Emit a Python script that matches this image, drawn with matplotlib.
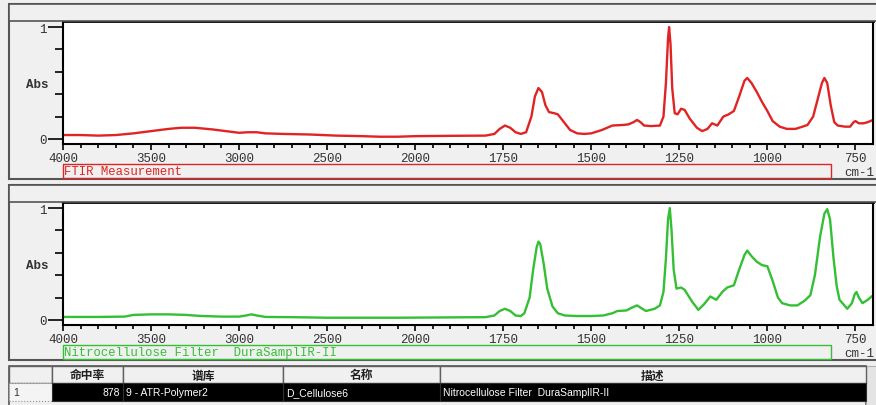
import numpy as np
import matplotlib
matplotlib.use('Agg')
from matplotlib import pyplot as plt
from matplotlib.patches import Rectangle
from matplotlib.ticker import FixedLocator

# --- measured spectrum (red) ---
wn_meas = [4000, 3900, 3800, 3700, 3600, 3500, 3400, 3330, 3250, 3150, 3050, 3000, 2950, 2900,
           2850, 2750, 2600, 2450, 2300, 2200, 2100, 2000, 1900, 1800, 1775, 1760, 1745, 1730,
           1715, 1700, 1685, 1670, 1660, 1650, 1640, 1630, 1620, 1605, 1595, 1580, 1560, 1540,
           1520, 1500, 1470, 1440, 1410, 1395, 1380, 1370, 1360, 1350, 1330, 1305, 1295, 1288,
           1282, 1279, 1275, 1270, 1263, 1255, 1245, 1235, 1220, 1200, 1185, 1170, 1157, 1142,
           1125, 1110, 1095, 1080, 1065, 1057, 1045, 1030, 1015, 1000, 985, 965, 945, 920, 900,
           886, 870, 855, 845, 838, 830, 820, 810, 800, 780, 765, 755, 750, 740, 727, 715, 700]
abs_meas = [0.035, 0.035, 0.03, 0.035, 0.05, 0.07, 0.09, 0.10, 0.10, 0.085, 0.065, 0.055, 0.06, 0.06,
            0.05, 0.045, 0.04, 0.03, 0.025, 0.02, 0.02, 0.025, 0.028, 0.03, 0.045, 0.09, 0.12, 0.10,
            0.06, 0.045, 0.06, 0.20, 0.38, 0.455, 0.42, 0.30, 0.24, 0.23, 0.22, 0.16, 0.08, 0.05,
            0.045, 0.05, 0.08, 0.12, 0.125, 0.13, 0.15, 0.17, 0.15, 0.12, 0.115, 0.12, 0.20, 0.50,
            0.90, 1.0, 0.85, 0.45, 0.23, 0.22, 0.27, 0.26, 0.18, 0.10, 0.07, 0.09, 0.14, 0.12,
            0.20, 0.22, 0.25, 0.38, 0.52, 0.545, 0.50, 0.42, 0.33, 0.25, 0.16, 0.11, 0.09, 0.09, 0.11,
            0.125, 0.20, 0.38, 0.50, 0.545, 0.50, 0.30, 0.15, 0.12, 0.11, 0.11, 0.15, 0.16, 0.14, 0.14, 0.15, 0.17]

# --- library match (green) ---
wn_lib = [4000, 3800, 3650, 3600, 3500, 3400, 3300, 3220, 3100, 3000, 2960, 2930, 2900, 2850,
          2700, 2500, 2300, 2100, 1950, 1800, 1775, 1760, 1745, 1730, 1715, 1700, 1690, 1675,
          1665, 1655, 1650, 1645, 1635, 1625, 1610, 1595, 1575, 1540, 1500, 1466, 1440, 1426,
          1400, 1385, 1370, 1355, 1345, 1320, 1305, 1295, 1288, 1282, 1277, 1272, 1266, 1258,
          1245, 1235, 1215, 1196, 1180, 1162, 1145, 1128, 1114, 1095, 1080, 1065, 1057, 1045,
          1030, 1015, 1000, 985, 970, 958, 935, 915, 895, 878, 865, 850, 838, 830, 822, 812,
          803, 795, 773, 760, 752, 747, 740, 730, 715, 700]
abs_lib = [0.027, 0.027, 0.03, 0.045, 0.05, 0.05, 0.045, 0.036, 0.03, 0.03, 0.04, 0.05, 0.04, 0.027,
           0.025, 0.02, 0.02, 0.02, 0.022, 0.025, 0.04, 0.08, 0.10, 0.08, 0.04, 0.035, 0.06, 0.20,
           0.45, 0.65, 0.70, 0.68, 0.50, 0.28, 0.12, 0.06, 0.04, 0.035, 0.035, 0.04, 0.06, 0.08,
           0.085, 0.11, 0.13, 0.10, 0.08, 0.10, 0.13, 0.25, 0.55, 0.90, 1.0, 0.80, 0.45, 0.28,
           0.29, 0.27, 0.17, 0.09, 0.14, 0.21, 0.18, 0.25, 0.29, 0.31, 0.45, 0.58, 0.62, 0.57,
           0.52, 0.49, 0.48, 0.35, 0.20, 0.15, 0.13, 0.13, 0.17, 0.22, 0.40, 0.75, 0.95, 0.99, 0.90, 0.55,
           0.30, 0.18, 0.10, 0.15, 0.23, 0.25, 0.20, 0.15, 0.18, 0.22]

x_major = [4000, 3500, 3000, 2500, 2000, 1750, 1500, 1250, 1000, 750]
x_minor = list(range(3900, 2000, -100)) + list(range(1950, 700, -50))

table_header = ['命中率', '谱库', '名称', '描述']
table_row = ['878', '9 - ATR-Polymer2', 'D_Cellulose6', 'Nitrocellulose Filter  DuraSamplIR-II']

W, H = 876, 406
BG = '#f0f0f0'
EDGE = '#555555'
MONO = 'Liberation Mono'
LABEL_C = '#333333'

fig = plt.figure(figsize=(W / 100, H / 100), dpi=100)
fig.patch.set_facecolor(BG)


def rect(x0, y0, x1, y1, **kw):
    # pixel box (top-left origin) -> figure fraction
    r = Rectangle((x0 / W, 1 - y1 / H), (x1 - x0) / W, (y1 - y0) / H,
                  transform=fig.transFigure, **kw)
    fig.add_artist(r)
    return r


def ftext(x, y, s, **kw):
    return fig.text(x / W, 1 - y / H, s, **kw)


# wavenumber axis is compressed 2x above 2000 cm-1
def fwd(x):
    x = np.asarray(x, dtype=float)
    return np.where(x > 2000, 2000 + (x - 2000) / 2, x)


def inv(u):
    u = np.asarray(u, dtype=float)
    return np.where(u > 2000, 2000 + (u - 2000) * 2, u)


def spectrum_panel(top, wn, ab, color, name):
    # top: y pixel of the panel frame
    hdr = top + 17
    bot = hdr + 123
    rect(9, top, 880, top + 175, facecolor=BG, edgecolor=EDGE, lw=1.5, zorder=0)
    rect(9, top, 880, hdr, facecolor=BG, edgecolor=EDGE, lw=1.2, zorder=1)

    ax = fig.add_axes([63 / W, 1 - bot / H, (873 - 63) / W, (bot - hdr) / H])
    ax.set_facecolor('white')
    ax.plot(wn, ab, color=color, lw=1.7)
    ax.set_xscale('function', functions=(fwd, inv))
    ax.set_xlim(4000, 700)
    ax.set_ylim(-0.045, 1.054)

    ax.xaxis.set_major_locator(FixedLocator(x_major))
    ax.xaxis.set_minor_locator(FixedLocator(x_minor))
    ax.set_xticklabels([str(v) for v in x_major])
    ax.set_yticks([0, 1])
    ax.set_yticklabels(['0', '1'])
    ax.yaxis.set_minor_locator(FixedLocator([0.2, 0.4, 0.6, 0.8]))

    ax.tick_params(axis='x', which='major', direction='out', length=4, width=1.2,
                   pad=2, labelsize=9, labelcolor=LABEL_C)
    ax.tick_params(axis='x', which='minor', direction='out', length=3, width=1.2)
    ax.tick_params(axis='y', which='major', direction='out', length=11, width=1.2,
                   pad=1, labelsize=9, labelcolor=LABEL_C)
    ax.tick_params(axis='y', which='minor', direction='out', length=6, width=1.2)
    for lab in ax.get_xticklabels() + ax.get_yticklabels():
        lab.set_family(MONO)
    for side in ['left', 'bottom', 'right']:
        ax.spines[side].set_linewidth(1.5)
    ax.spines['top'].set_linewidth(2)

    ftext(37, hdr + 63, 'Abs', family=MONO, fontsize=9, weight='bold', color=LABEL_C,
          ha='center', va='center')
    rect(63, bot + 20, 831, bot + 34, facecolor='none', edgecolor=color, lw=1, zorder=2)
    ftext(64, bot + 27.5, name, family=MONO, fontsize=8.8, color=color, ha='left', va='center')
    ftext(874, bot + 28, 'cm-1', family=MONO, fontsize=9, color=LABEL_C,
          ha='right', va='center')
    return ax


spectrum_panel(5, wn_meas, abs_meas, '#e02424', 'FTIR Measurement')
spectrum_panel(186, wn_lib, abs_lib, '#34bf34', 'Nitrocellulose Filter  DuraSamplIR-II')

# --- hit list table ---
cols = [9, 52, 123, 283, 440, 866]
hdr_top, row_top, row_bot = 367, 384, 402
rect(9, hdr_top, 866, 410, facecolor=BG, edgecolor=EDGE, lw=1.2, zorder=1)
rect(866, hdr_top, 880, 410, facecolor='#e4e4e4', edgecolor='#b0b0b0', lw=0.8, zorder=1)
for i in range(len(cols) - 1):
    x0, x1 = cols[i], cols[i + 1]
    rect(x0, hdr_top, x1, row_top, facecolor=BG, edgecolor='#606060', lw=1, zorder=2)
    if i == 0:
        rect(x0, row_top, x1, row_bot, facecolor='#f4f4f4', edgecolor='#909090',
             lw=0.8, ls=':', zorder=2)
    else:
        rect(x0, row_top, x1, row_bot, facecolor='black', edgecolor='#303030', lw=0.8, zorder=2)
        ftext((x0 + x1) / 2, (hdr_top + row_top) / 2 + 0.5, table_header[i - 1],
              family=['Noto Sans CJK SC', 'DejaVu Sans'], fontsize=8.5, weight='bold',
              color='#202020', ha='center', va='center')

row_mid = (row_top + row_bot) / 2 + 0.5
ftext(13, row_mid, '1', family='Liberation Sans', fontsize=7.5,
      color='#303030', ha='left', va='center')
ftext(cols[2] - 3, row_mid, table_row[0], family='Liberation Sans',
      fontsize=7.5, color='white', ha='right', va='center')
for j in range(1, 4):
    ftext(cols[j + 1] + 3, row_mid, table_row[j], family='Liberation Sans',
          fontsize=7.5, color='white', ha='left', va='center')

fig.savefig('out.png', dpi=100, facecolor=fig.get_facecolor())
